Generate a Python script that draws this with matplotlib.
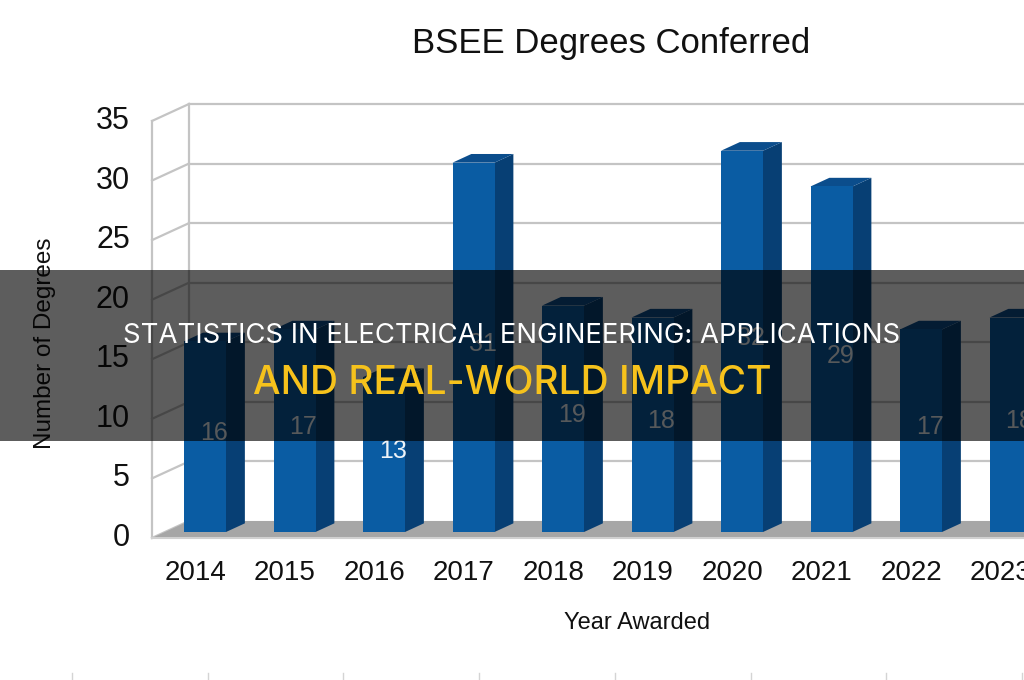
import numpy as np
import matplotlib
matplotlib.use("Agg")
import matplotlib.pyplot as plt
from matplotlib.patches import Polygon, Rectangle

# data
years = ['2014', '2015', '2016', '2017', '2018', '2019', '2020', '2021', '2022', '2023']
degrees = [16, 17, 13, 31, 19, 18, 32, 29, 17, 18]
yticks = [0, 5, 10, 15, 20, 25, 30, 35]

title = 'BSEE Degrees Conferred'
ylabel = 'Number of Degrees'
xlabel = 'Year Awarded'
headline1 = 'STATISTICS IN ELECTRICAL ENGINEERING: APPLICATIONS'
headline2 = 'AND REAL-WORLD IMPACT'

# colours
front_c = '#0a5ca3'
side_c = '#073f74'
top_c = '#0b4d8c'
grid_c = '#c4c4c4'
floor_c = '#a6a6a6'

plt.rcParams['font.family'] = ['Liberation Sans', 'DejaVu Sans']

W, H = 1024, 680
fig = plt.figure(figsize=(W / 100, H / 100), dpi=100)
fig.patch.set_facecolor('white')
ax = fig.add_axes([0, 0, 1, 1])
ax.axis('off')

# scale: pixels per category / per unit
xpx = 89.5
ypx = 417 / 35.0
x0px = 205   # pixel column of first bar centre
y0px = 532   # pixel row of bar base (front plane)
ax.set_xlim(-x0px / xpx, (W - x0px) / xpx)
ax.set_ylim(-(H - y0px) / ypx, y0px / ypx)

# depth vector (front edge -> back wall), in data units
DX = 37 / xpx
DY = 17 / ypx
bar_d = 0.35          # depth of bar front faces
bar_depth = 0.51      # bar thickness as fraction of full depth


def P(x, y, d):
    # point at depth d (0 = front edge, 1 = back wall)
    return (x + (d - bar_d) * DX, y + (d - bar_d) * DY)


xl = -0.447
xr = len(years) + 1
ymax = yticks[-1]

# floor
floor = Polygon([P(xl, 0, 0), P(xr, 0, 0), P(xr, 0, 1), P(xl, 0, 1)],
                closed=True, fc=floor_c, ec='none', zorder=1)
ax.add_patch(floor)
ax.plot(*zip(P(xl, 0, 0), P(xr, 0, 0)), color='#d0d0d0', lw=1.5, zorder=1.5)

# walls: gridlines on back and left side
for v in yticks:
    if v > 0:
        ax.plot(*zip(P(xl, v, 1), P(xr, v, 1)), color=grid_c, lw=1.6, zorder=0.5)
    ax.plot(*zip(P(xl, v, 0), P(xl, v, 1)), color=grid_c, lw=1.6, zorder=0.5)
ax.plot(*zip(P(xl, 0, 1), P(xl, ymax, 1)), color=grid_c, lw=1.6, zorder=0.5)
ax.plot(*zip(P(xl, 0, 0), P(xl, ymax, 0)), color=grid_c, lw=1.6, zorder=0.5)

# bars
hw = 21 / xpx
bdx = bar_depth * DX
bdy = bar_depth * DY
for i, v in enumerate(degrees):
    ax.add_patch(Polygon([(i + hw, 0), (i + hw + bdx, bdy), (i + hw + bdx, v + bdy), (i + hw, v)],
                         closed=True, fc=side_c, ec='none', zorder=3))
    ax.add_patch(Polygon([(i - hw, v), (i + hw, v), (i + hw + bdx, v + bdy), (i - hw + bdx, v + bdy)],
                         closed=True, fc=top_c, ec='none', zorder=3))
    ax.add_patch(Rectangle((i - hw, 0), 2 * hw, v, fc=front_c, ec='none', zorder=4))
    ax.text(i + 0.1, v / 2 + 0.3, str(v), ha='center', va='center',
            fontsize=18, color='#eef3f8', zorder=5)

# tick labels
for v in yticks:
    ax.text(-0.84, v - bar_d * DY, str(v), ha='right', va='center', fontsize=22, color='#111111')
for i, yr in enumerate(years):
    ax.text(i - 0.11, -41 / ypx, yr, ha='center', va='center', fontsize=20, color='#111111')

fig.text(611 / W, 1 - 43 / H, title, ha='center', va='center', fontsize=25, color='#111111')
fig.text(45 / W, 1 - 343 / H, ylabel, ha='center', va='center', rotation=90,
         fontsize=17.5, color='#111111')
fig.text(637 / W, 1 - 623 / H, xlabel, ha='center', va='center', fontsize=17, color='#111111')

# faint marks along the bottom edge
for xp in np.linspace(72, 1022, 8):
    fig.add_artist(plt.Line2D([xp / W, xp / W], [0, 7 / H], color='#d4d4d4', lw=1))

# dark headline band
band = Rectangle((0, 1 - 441 / H), 1, 171 / H, transform=fig.transFigure,
                 fc='black', alpha=0.635, ec='none', zorder=10)
fig.add_artist(band)
fig.text(0.5, 1 - 336 / H, headline1, ha='center', va='center', fontsize=19.8,
         color='white', family=['Inter', 'DejaVu Sans'], zorder=11)
fig.text(0.5, 1 - 383 / H, headline2, ha='center', va='center', fontsize=28,
         color='#f6c21c', family=['Inter', 'DejaVu Sans'], fontweight='medium', zorder=11)

fig.savefig('out.png', dpi=100)
